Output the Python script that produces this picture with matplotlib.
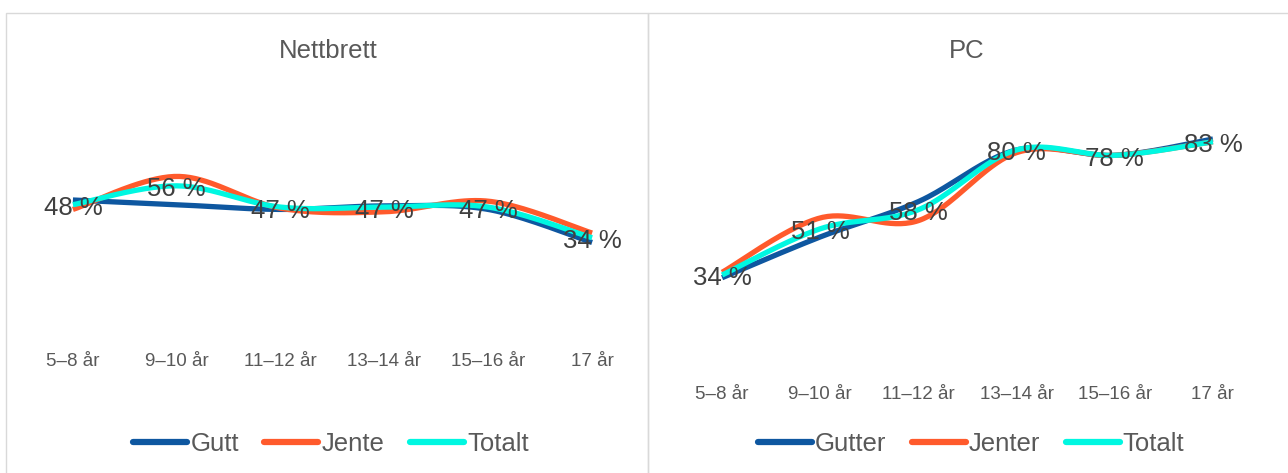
import numpy as np
import matplotlib.pyplot as plt
from matplotlib.patches import Rectangle

plt.rcParams['font.family'] = ['Liberation Sans', 'DejaVu Sans']

# Data (percent)
ages = ['5–8 år', '9–10 år', '11–12 år', '13–14 år', '15–16 år', '17 år']

tablet_gutt = [50, 48, 46, 47.5, 46, 32]
tablet_jente = [46, 60, 46.5, 45, 49.5, 36]
tablet_totalt = [48, 56, 47, 47, 47, 34]

pc_gutter = [33, 48, 61, 80, 78, 84]
pc_jenter = [35, 55, 54, 79, 78, 83]
pc_totalt = [34, 51, 58, 80, 78, 83]

c_blue = '#0E57A0'
c_orange = '#FF5A2C'
c_cyan = '#00F7E1'
txt = '#595959'
lbl = '#404040'


def smooth(y, n=40):
    # Catmull-Rom curve through the points (like Excel's smoothed line)
    y = np.asarray(y, float)
    x = np.arange(len(y), dtype=float)
    px = np.concatenate([[x[0]], x, [x[-1]]])
    py = np.concatenate([[y[0]], y, [y[-1]]])
    xs, ys = [], []
    for i in range(1, len(px) - 2):
        t = np.linspace(0, 1, n)
        for arr, out in ((px, xs), (py, ys)):
            p0, p1, p2, p3 = arr[i - 1], arr[i], arr[i + 1], arr[i + 2]
            b1 = p1 + (p2 - p0) / 6
            b2 = p2 - (p3 - p1) / 6
            out.extend((1 - t) ** 3 * p1 + 3 * (1 - t) ** 2 * t * b1
                       + 3 * (1 - t) * t ** 2 * b2 + t ** 3 * p2)
    return np.array(xs), np.array(ys)


W, H = 1288, 473
fig = plt.figure(figsize=(W / 100, H / 100), dpi=100)

# panel frames (they share the line at x=648)
for x0, x1 in ((6, 648), (648, 1300)):
    fig.patches.append(Rectangle((x0 / W, -0.1), (x1 - x0) / W, (H - 13) / H + 0.1,
                                 transform=fig.transFigure, fill=False,
                                 edgecolor='#D9D9D9', linewidth=1.0))


def panel(rect, title, series, names, pad, title_x):
    ax = fig.add_axes(rect)
    for vals, color, name in zip(series, (c_blue, c_orange, c_cyan), names):
        xs, ys = smooth(vals)
        ax.plot(xs, ys, color=color, linewidth=3.8, solid_capstyle='butt', label=name)
    for i, v in enumerate(series[2]):
        ax.annotate(f'{v:.0f} %', (i, v), xytext=(0, -2.5), textcoords='offset points',
                    ha='center', va='center', fontsize=18.5, color=lbl)
    ax.set_xlim(-0.5, len(ages) - 0.5)
    ax.set_ylim(0, 100)
    ax.set_xticks(range(len(ages)))
    ax.set_xticklabels(ages, fontsize=13.5, color=txt)
    ax.tick_params(axis='x', length=0, pad=pad)
    ax.set_yticks([])
    for s in ax.spines.values():
        s.set_visible(False)
    ax.patch.set_alpha(0)
    fig.text(title_x / W, 1 - 51 / H, title, ha='center', va='center', fontsize=18.5, color=txt)
    return ax


# left: Nettbrett, x 21..644 px, y 0% at 318 px, 100% at 82 px
axl = panel([21 / W, 1 - 318 / H, 623 / W, 236 / H], 'Nettbrett',
            [tablet_gutt, tablet_jente, tablet_totalt], ['Gutt', 'Jente', 'Totalt'],
            25, 328)
# right: PC, x 673..1262 px, y 0% at 367.5 px, 100% at 95.5 px
axr = panel([673 / W, 1 - 367.5 / H, 589 / W, 272 / H], 'PC',
            [pc_gutter, pc_jenter, pc_totalt], ['Gutter', 'Jenter', 'Totalt'],
            13, 967)

for ax, cx in ((axl, 331), (axr, 971)):
    leg = fig.legend(*ax.get_legend_handles_labels(), loc='center', ncol=3,
                     bbox_to_anchor=(cx / W, 1 - 444 / H), frameon=False,
                     fontsize=18.5, handlelength=2.1, handletextpad=0.12,
                     columnspacing=1.0, labelcolor=txt)
    for h in leg.get_lines():
        h.set_linewidth(4.5)
        h.set_solid_capstyle('round')

fig.savefig('out.png', dpi=100)
